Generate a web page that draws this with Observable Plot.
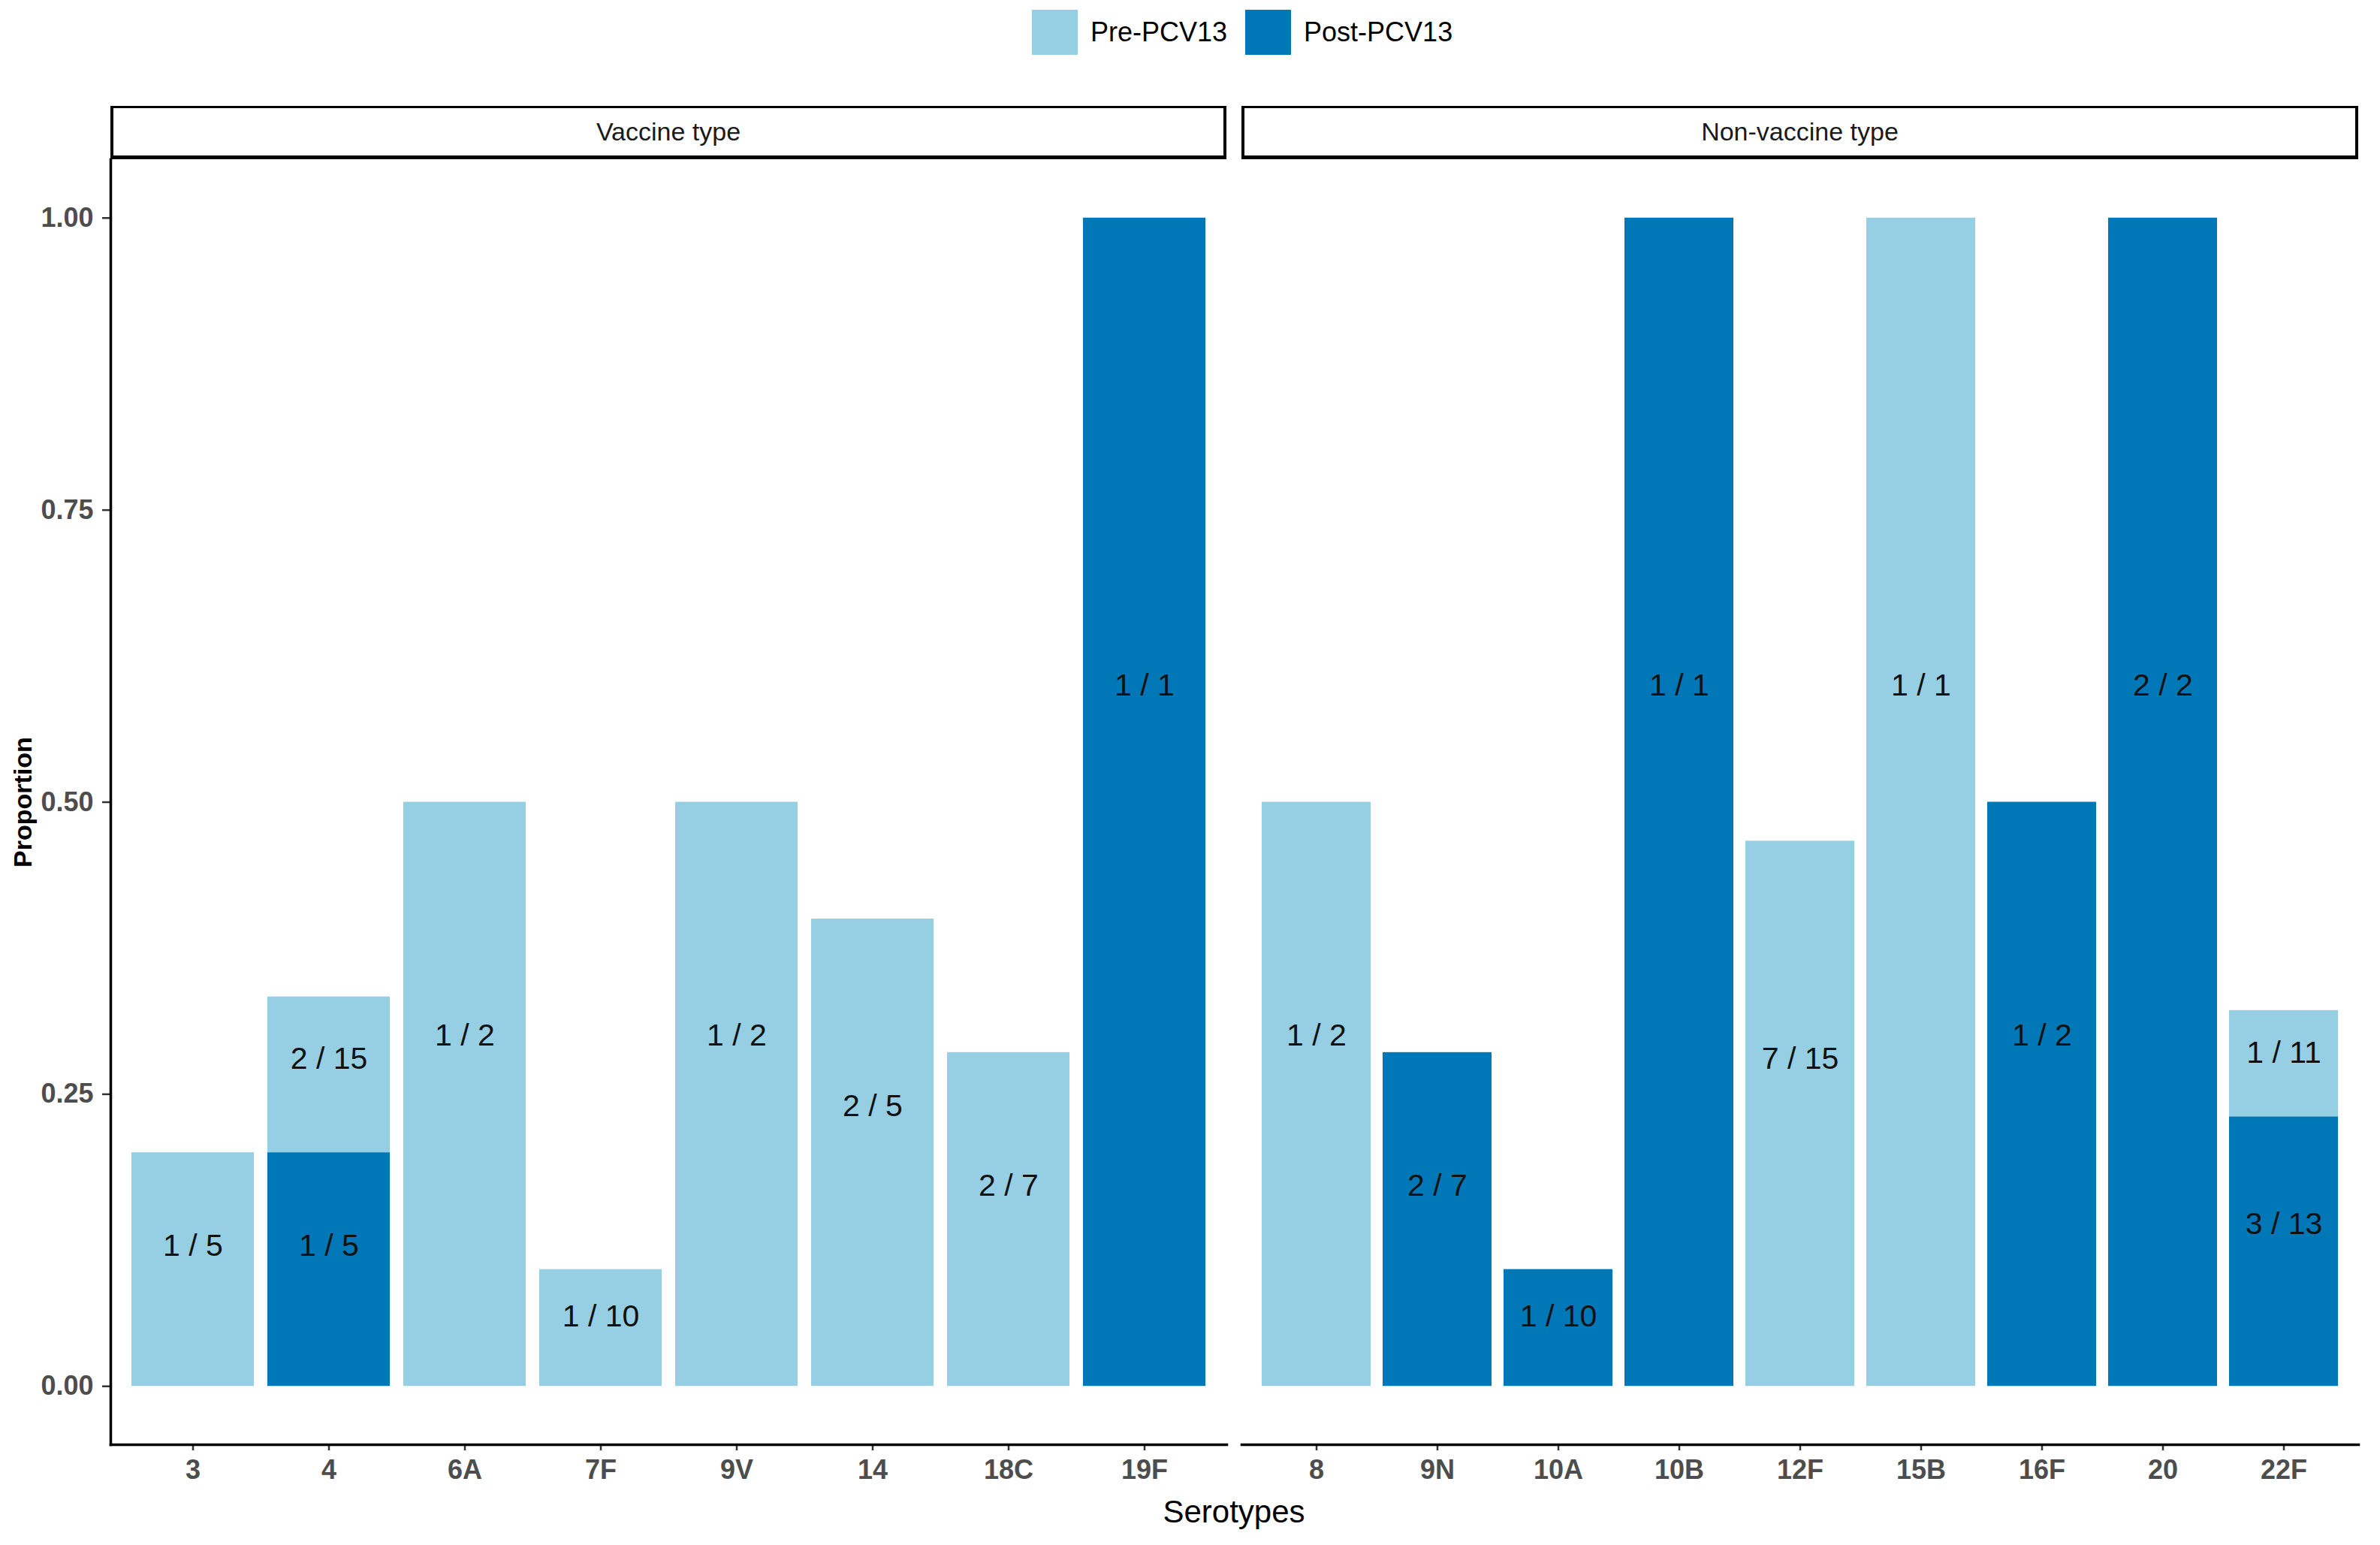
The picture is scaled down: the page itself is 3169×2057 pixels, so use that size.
<!DOCTYPE html>
<html>
<head>
<meta charset="utf-8">
<script src="https://cdn.jsdelivr.net/npm/d3@7"></script>
<script src="https://cdn.jsdelivr.net/npm/@observablehq/plot@0.6"></script>
<style>
  body { margin: 0; background: #fff; font-family: "Liberation Sans", Arial, sans-serif; }
  #root { position: relative; width: 3169px; height: 2057px; overflow: hidden; background: #fff; }
  .strip { position: absolute; box-sizing: border-box; border: solid #000; border-width: 3px 4px 5px 4px;
           display: flex; align-items: center; justify-content: center; font-size: 34px; color: #1a1a1a; background: #fff; }
  .legend { position: absolute; top: 13px; left: 1374px; height: 60px; display: flex; align-items: center; font-size: 36px; color: #000; }
  .key { width: 61px; height: 60px; display: inline-block; }
  .panel { position: absolute; top: 212px; }
  #xlabel { position: absolute; left: 0; width: 3286px; top: 1992px; text-align: center; font-size: 42px; line-height: 1; color: #000; }
  #ylabel { position: absolute; left: 30px; top: 1068px; transform: translate(-50%, -50%) rotate(-90deg); font-size: 34px; font-weight: bold; color: #000; white-space: nowrap; }
</style>
</head>
<body>
<div id="root">
  <div class="legend" id="legend"></div>
  <div class="strip" id="strip1" style="left:147px; top:141px; width:1486px; height:71px;"></div>
  <div class="strip" id="strip2" style="left:1653px; top:141px; width:1487px; height:71px;"></div>
  <div class="panel" id="p1" style="left:0px;"></div>
  <div class="panel" id="p2" style="left:1653px;"></div>
  <div id="xlabel">Serotypes</div>
  <div id="ylabel">Proportion</div>
</div>
<script>
// ---- data ----
const groups = ["Vaccine type", "Non-vaccine type"];
const vaccineSerotypes = ["3", "4", "6A", "7F", "9V", "14", "18C", "19F"];
const nonVaccineSerotypes = ["8", "9N", "10A", "10B", "12F", "15B", "16F", "20", "22F"];
const periods = ["Pre-PCV13", "Post-PCV13"];
const periodColors = ["#96cee3", "#0077b6"];
const yTicks = [0, 0.25, 0.5, 0.75, 1];

const recSerotype = ["3", "4", "4", "6A", "7F", "9V", "14", "18C", "19F",
                     "8", "9N", "10A", "10B", "12F", "15B", "16F", "20", "22F", "22F"];
const recGroup = ["Vaccine type", "Vaccine type", "Vaccine type", "Vaccine type", "Vaccine type",
                  "Vaccine type", "Vaccine type", "Vaccine type", "Vaccine type",
                  "Non-vaccine type", "Non-vaccine type", "Non-vaccine type", "Non-vaccine type", "Non-vaccine type",
                  "Non-vaccine type", "Non-vaccine type", "Non-vaccine type", "Non-vaccine type", "Non-vaccine type"];
const recPeriod = ["Pre-PCV13", "Post-PCV13", "Pre-PCV13", "Pre-PCV13", "Pre-PCV13", "Pre-PCV13", "Pre-PCV13", "Pre-PCV13", "Post-PCV13",
                   "Pre-PCV13", "Post-PCV13", "Post-PCV13", "Post-PCV13", "Pre-PCV13", "Pre-PCV13", "Post-PCV13", "Post-PCV13", "Post-PCV13", "Pre-PCV13"];
const recNumerator = [1, 1, 2, 1, 1, 1, 2, 2, 1,
                      1, 2, 1, 1, 7, 1, 1, 2, 3, 1];
const recDenominator = [5, 5, 15, 2, 10, 2, 5, 7, 1,
                        2, 7, 10, 1, 15, 1, 2, 2, 13, 11];

// ---- build table ----
const stackOrder = ["Post-PCV13", "Pre-PCV13"];
const records = recSerotype.map((s, i) => ({
  serotype: s,
  group: recGroup[i],
  period: recPeriod[i],
  value: recNumerator[i] / recDenominator[i],
  label: `${recNumerator[i]} / ${recDenominator[i]}`
}));
// label position: 60% up each stacked segment (Post at bottom, Pre on top)
const base = new Map();
stackOrder.forEach(p => {
  records.filter(d => d.period === p).forEach(d => {
    const b = base.get(d.serotype) || 0;
    d.labelY = b + 0.6 * d.value;
    base.set(d.serotype, b + d.value);
  });
});

// ---- legend / strips ----
const legend = document.getElementById("legend");
periods.forEach((p, i) => {
  const k = document.createElement("span");
  k.className = "key";
  k.style.background = periodColors[i];
  const t = document.createElement("span");
  t.textContent = p;
  t.style.marginLeft = "17px";
  t.style.marginRight = i === 0 ? "24px" : "0";
  legend.appendChild(k);
  legend.appendChild(t);
});
document.getElementById("strip1").textContent = groups[0];
document.getElementById("strip2").textContent = groups[1];

// ---- panels ----
const FONT = '"Liberation Sans", Arial, sans-serif';
const PANEL_H = 1711;
const MB = 75;

function makePanel(group, domain, showY, width, marginLeft) {
  const data = records.filter(d => d.group === group);
  const marks = [
    Plot.barY(data, Plot.stackY({x: "serotype", y: "value", fill: "period", order: stackOrder})),
    Plot.text(data, {x: "serotype", y: "labelY", text: "label", fontSize: 41, fill: "#111"}),
    Plot.axisX({tickSize: 8, tickPadding: 12, fontSize: 36, fontWeight: "bold", fill: "#4d4d4d", stroke: "#333", strokeWidth: 2.5, label: null}),
    Plot.frame({anchor: "bottom", stroke: "#000", strokeWidth: 3.5})
  ];
  if (showY) {
    marks.push(Plot.axisY({ticks: yTicks, tickFormat: d3.format(".2f"), tickSize: 11, tickPadding: 12,
      fontSize: 36, fontWeight: "bold", fill: "#4d4d4d", stroke: "#333", strokeWidth: 2.5, label: null}));
    marks.push(Plot.frame({anchor: "left", stroke: "#000", strokeWidth: 3.5}));
  }
  return Plot.plot({
    width, height: PANEL_H + MB,
    marginLeft, marginRight: 0, marginTop: 0, marginBottom: MB,
    style: {fontFamily: FONT, background: "transparent", overflow: "visible"},
    x: {domain, paddingInner: 0.1, paddingOuter: 0.15, label: null},
    y: {domain: [-0.05, 1.05], label: null, axis: showY ? undefined : null},
    color: {domain: periods, range: periodColors},
    marks
  });
}

document.getElementById("p1").appendChild(makePanel(groups[0], vaccineSerotypes, true, 1633, 147));
document.getElementById("p2").appendChild(makePanel(groups[1], nonVaccineSerotypes, false, 1487, 0));
</script>
</body>
</html>
